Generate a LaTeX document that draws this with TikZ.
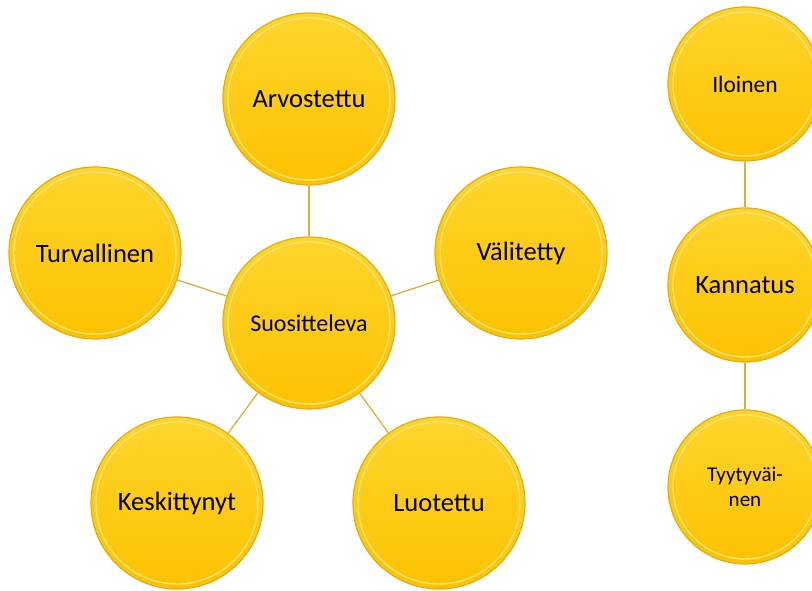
\documentclass[tikz,border=0pt]{standalone}
\usepackage{fontspec}
\setmainfont{Carlito}
\usetikzlibrary{calc}
\definecolor{bubtop}{HTML}{FFD52C}
\definecolor{bubbot}{HTML}{FCC200}
\definecolor{bubrim}{HTML}{E2AE14}
\definecolor{bubshine}{HTML}{FFE477}
\definecolor{linkgold}{HTML}{DCB040}
\tikzset{
  bubble/.style={circle, minimum size=172pt, inner sep=0pt, align=center,
    top color=bubtop, bottom color=bubbot, draw=bubrim, line width=1.2pt,
    font=\fontsize{26.5}{31}\selectfont,
    path picture={\draw[bubshine, line width=1.4pt]
      let \p1=($(path picture bounding box.east)-(path picture bounding box.center)$)
      in (path picture bounding box.center) circle[radius=\x1-5pt];}},
  smallbubble/.style={bubble, minimum size=154pt},
  link/.style={draw=linkgold, line width=1.3pt}
}
\begin{document}
\begin{tikzpicture}[x=1pt, y=1pt]
  \useasboundingbox (0,0) rectangle (812,591);
  \node[bubble] (arv) at (309,492) {Arvostettu};
  \node[bubble] (tur) at (95,338)  {Turvallinen};
  \node[bubble, font=\fontsize{24}{29}\selectfont] (suo) at (309,268) {Suositteleva};
  \node[bubble] (val) at (521,338) {Välitetty};
  \node[bubble] (kes) at (177,88)  {Keskittynyt};
  \node[bubble] (luo) at (439,88)  {Luotettu};
  \node[smallbubble, font=\fontsize{23.5}{28}\selectfont] (ilo) at (745,507) {Iloinen};
  \node[smallbubble] (kan) at (745,306) {Kannatus};
  \node[smallbubble, font=\fontsize{21}{25}\selectfont] (tyy) at (745,104) {Tyytyväi-\\nen};
  \draw[link] (suo) -- (arv);
  \draw[link] (suo) -- (tur);
  \draw[link] (suo) -- (val);
  \draw[link] (suo) -- (kes);
  \draw[link] (suo) -- (luo);
  \draw[link] (ilo) -- (kan);
  \draw[link] (kan) -- (tyy);
\end{tikzpicture}
\end{document}
